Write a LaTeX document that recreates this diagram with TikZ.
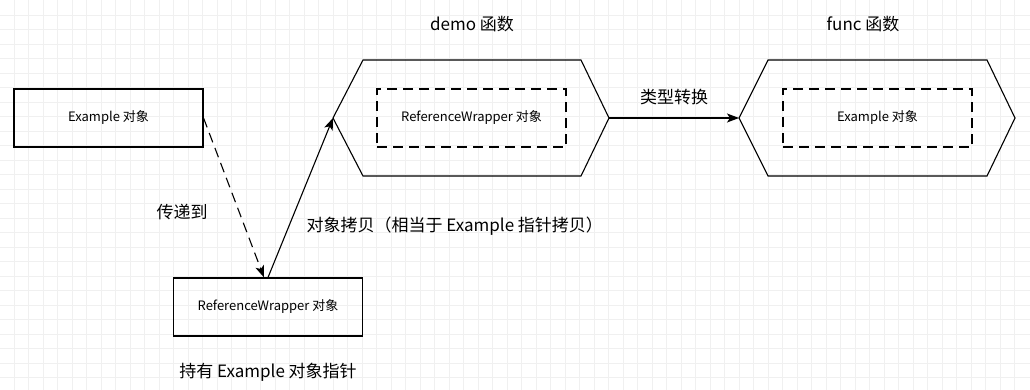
\documentclass[tikz,border=0pt]{standalone}
\usepackage{fontspec}
\setmainfont{Noto Sans CJK SC}
\usetikzlibrary{positioning, arrows.meta}

\begin{document}
\begin{tikzpicture}[x=1pt, y=-1pt, line width=1.1pt,
    box/.style={draw, minimum width=189pt, minimum height=58pt, inner sep=0pt, font=\fontsize{13}{15}\selectfont},
    dashbox/.style={box, dash pattern=on 10pt off 6pt},
    lbl/.style={inner sep=0pt, font=\fontsize{17}{20}\selectfont},
    arr/.style={-{Stealth[length=12pt, width=9pt, inset=3pt]}}]

        % Canvas and background grid
        \useasboundingbox (0,0) rectangle (1030,390);
        \fill[white] (0,0) rectangle (1030,390);
        \foreach \gx in {0,...,69} \draw[black!6, line width=0.6pt] (14+14.5*\gx,0) -- (14+14.5*\gx,390);
        \foreach \gy in {0,...,25} \draw[black!6, line width=0.6pt] (0,15+14.5*\gy) -- (1030,15+14.5*\gy);

        % Plain boxes
        \node[box] (ex) at (108.5,118) {Example 对象};
        \node[box] (rw) at (268,307) {ReferenceWrapper 对象};

        % Function hexagons
        \draw (333,118) coordinate (demoL) -- (363,60) -- (581,60) -- (609,118) coordinate (demoR) -- (581,176) -- (363,176) -- cycle;
        \draw (739,118) coordinate (funcL) -- (768,60) -- (987,60) -- (1015,118) coordinate (funcR) -- (987,176) -- (768,176) -- cycle;

        % Inner dashed boxes
        \node[dashbox] (demoin) at (471.5,118) {ReferenceWrapper 对象};
        \node[dashbox] (funcin) at (877.5,118) {Example 对象};

        % Titles and labels
        \node[lbl] (demot) at (472,24) {demo 函数};
        \node[lbl] (funct) at (863,24) {func 函数};
        \node[lbl] (conv) at (674,97) {类型转换};
        \node[lbl] (pass) at (182,212) {传递到};
        \node[lbl, anchor=west] (copy) at (306,226) {对象拷贝（相当于 Example 指针拷贝）};
        \node[lbl] (hold) at (268,372) {持有 Example 对象指针};

        % Connectors
        \draw[arr, dash pattern=on 10pt off 6pt] (ex.east) -- ([xshift=-4pt]rw.north);
        \draw[arr] (rw.north) -- (demoL);
        \draw[arr] (demoR) -- (funcL);

    \end{tikzpicture}
\end{document}
